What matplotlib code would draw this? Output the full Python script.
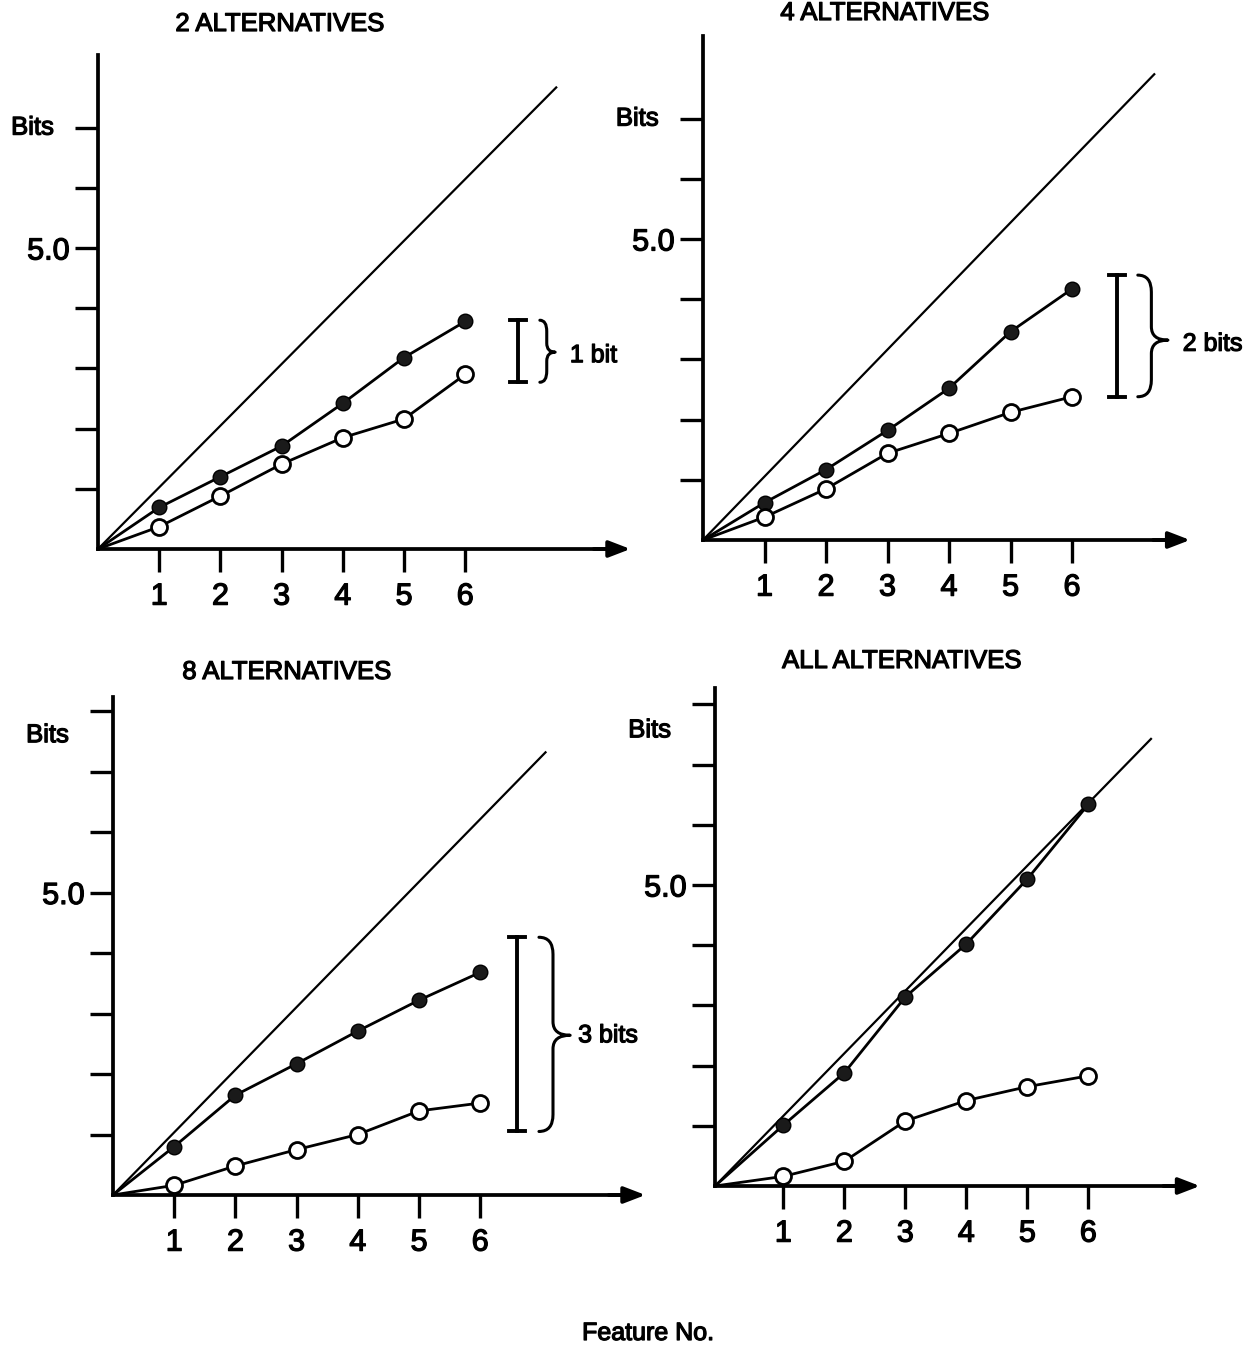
import matplotlib
matplotlib.use("Agg")
import matplotlib.pyplot as plt
from matplotlib.path import Path
from matplotlib.patches import PathPatch
import matplotlib.patheffects as pe

plt.rcParams['font.family'] = ['Liberation Sans', 'DejaVu Sans']

# ---------------- data ----------------
features = [1, 2, 3, 4, 5, 6]
feature_labels = ['1', '2', '3', '4', '5', '6']

titles = ['2 ALTERNATIVES', '4 ALTERNATIVES', '8 ALTERNATIVES', 'ALL ALTERNATIVES']

two_filled = [0.69, 1.20, 1.71, 2.42, 3.18, 3.78]
two_open = [0.37, 0.88, 1.41, 1.85, 2.16, 2.90]

four_filled = [0.62, 1.17, 1.82, 2.52, 3.46, 4.17]
four_open = [0.38, 0.85, 1.44, 1.77, 2.12, 2.38]

eight_filled = [0.80, 1.65, 2.17, 2.71, 3.22, 3.68]
eight_open = [0.16, 0.48, 0.75, 1.00, 1.39, 1.52]

all_filled = [1.01, 1.88, 3.14, 4.02, 5.10, 6.34]
all_open = [0.16, 0.41, 1.08, 1.42, 1.65, 1.83]

# diagonal reference line end points (feature, bits)
diag_end_x = [7.50, 7.35, 7.08, 7.04]
diag_end_y = [7.68, 7.75, 7.33, 7.44]

# difference brackets: (low, high, label)
bracket_low = [2.77, 2.38, 1.05, None]
bracket_high = [3.80, 4.40, 4.26, None]
bracket_labels = ['1 bit', '2 bits', '3 bits', None]

y_tick_counts = [7, 7, 8, 8]
bits_label_y = [7.0, 7.0, 7.6, 7.57]

# ---------------- layout ----------------
W, H = 1257, 1347
fig = plt.figure(figsize=(W / 100, H / 100), dpi=100)

heavy = [pe.withStroke(linewidth=0.9, foreground='black')]

# origin pixel, unit sizes, x offset of origin, axis extents
panels = [
    dict(ox=98, oy=549, ux=61.2, uy=60.2, xo=0.0, xend=8.7, ytop=8.2,
         tx=280, ty=24, br_x=6.86, bc_x=7.22, bc_w=0.25, tip_y=3.27, lab_x=7.71, lab_y=3.22),
    dict(ox=703, oy=540, ux=61.5, uy=60.2, xo=0.0, xend=7.92, ytop=8.38,
         tx=885, ty=13, br_x=6.73, bc_x=7.07, bc_w=0.49, tip_y=3.32, lab_x=7.8, lab_y=3.26),
    dict(ox=113, oy=1195, ux=61.2, uy=60.5, xo=0.0, xend=8.7, ytop=8.23,
         tx=287, ty=672, br_x=6.6, bc_x=6.96, bc_w=0.51, tip_y=2.64, lab_x=7.6, lab_y=2.64),
    dict(ox=715, oy=1186, ux=61.0, uy=60.2, xo=-0.12, xend=7.83, ytop=8.27,
         tx=902, ty=661, br_x=None),
]
series = [(two_filled, two_open), (four_filled, four_open),
          (eight_filled, eight_open), (all_filled, all_open)]

xlim = (-1.8, 9.3)
ylim = (-1.4, 8.7)


def brace(ax, x0, w, y0, y1, ytip, lw=2.2):
    xm = x0 + w * 0.45
    r = min(0.28, (y1 - y0) * 0.18)
    verts = [(x0, y1), (xm, y1), (xm, y1 - r),
             (xm, ytip + r * 0.8),
             (xm, ytip), (x0 + w, ytip),
             (xm, ytip), (xm, ytip - r * 0.8),
             (xm, y0 + r),
             (xm, y0), (x0, y0)]
    codes = [Path.MOVETO, Path.CURVE3, Path.CURVE3,
             Path.LINETO,
             Path.CURVE3, Path.CURVE3,
             Path.CURVE3, Path.CURVE3,
             Path.LINETO,
             Path.CURVE3, Path.CURVE3]
    ax.add_patch(PathPatch(Path(verts, codes), fill=False, lw=lw,
                           edgecolor='black', capstyle='round', joinstyle='round'))


for i, p in enumerate(panels):
    ox, oy, ux, uy, xo = p['ox'], p['oy'], p['ux'], p['uy'], p['xo']
    left_px = ox + (xlim[0] - xo) * ux
    width_px = (xlim[1] - xlim[0]) * ux
    bottom_px = oy - ylim[0] * uy
    height_px = (ylim[1] - ylim[0]) * uy
    ax = fig.add_axes([left_px / W, (H - bottom_px) / H, width_px / W, height_px / H])
    ax.set_xlim(*xlim)
    ax.set_ylim(*ylim)
    ax.patch.set_visible(False)

    for s in ['top', 'right']:
        ax.spines[s].set_visible(False)
    ax.spines['left'].set_position(('data', xo))
    ax.spines['left'].set_bounds(0, p['ytop'])
    ax.spines['left'].set_linewidth(2.7)
    ax.spines['bottom'].set_position(('data', 0))
    ax.spines['bottom'].set_bounds(xo, p['xend'] - 0.2)
    ax.spines['bottom'].set_linewidth(2.7)
    ax.annotate('', xy=(p['xend'], 0), xytext=(p['xend'] - 0.6, 0),
                arrowprops=dict(arrowstyle='-|>,head_length=1.3,head_width=0.5',
                                lw=2.7, color='black', shrinkA=0, shrinkB=0))

    ax.set_xticks(features)
    ax.set_xticklabels(feature_labels)
    n = y_tick_counts[i]
    yt = list(range(1, n + 1))
    ax.set_yticks(yt)
    ax.set_yticklabels(['5.0' if v == 5 else '' for v in yt])
    ax.tick_params(axis='x', direction='out', length=16.5, width=2.4, labelsize=22, pad=7)
    ax.tick_params(axis='y', direction='out', length=16.5, width=2.4, labelsize=22, pad=4)
    for lab in ax.get_xticklabels() + ax.get_yticklabels():
        lab.set_path_effects(heavy)

    ax.text(xo - 0.72, bits_label_y[i], 'Bits', ha='right', va='center', fontsize=18.5,
            path_effects=heavy)

    # diagonal
    ax.plot([xo, diag_end_x[i]], [0, diag_end_y[i]], color='black', lw=1.6,
            solid_capstyle='butt')

    filled, opened = series[i]
    ax.plot([xo] + features, [0] + filled, color='black', lw=2.0, zorder=3)
    ax.plot([xo] + features, [0] + opened, color='black', lw=2.0, zorder=3)
    ax.plot(features, filled, linestyle='none', marker='o', markersize=10.5,
            markerfacecolor='#1a1a1a', markeredgecolor='black', zorder=4)
    ax.plot(features, opened, linestyle='none', marker='o', markersize=11.5,
            markerfacecolor='white', markeredgecolor='black', markeredgewidth=2.0, zorder=4)

    if p['br_x'] is not None:
        lo, hi = bracket_low[i], bracket_high[i]
        bx = p['br_x']
        ax.plot([bx, bx], [lo, hi], color='black', lw=2.8)
        ax.plot([bx - 0.13, bx + 0.13], [hi, hi], color='black', lw=2.8)
        ax.plot([bx - 0.13, bx + 0.13], [lo, lo], color='black', lw=2.8)
        brace(ax, p['bc_x'], p['bc_w'], lo, hi, p['tip_y'])
        ax.text(p['lab_x'], p['lab_y'], bracket_labels[i], ha='left', va='center',
                fontsize=18, path_effects=heavy)

    fig.text(p['tx'] / W, 1 - p['ty'] / H, titles[i], ha='center', va='center',
             fontsize=18.5, path_effects=heavy)

fig.text(648 / W, 1 - 1333 / H, 'Feature No.', ha='center', va='center', fontsize=18,
         path_effects=heavy)

fig.savefig('out.png', dpi=100, facecolor='white')
